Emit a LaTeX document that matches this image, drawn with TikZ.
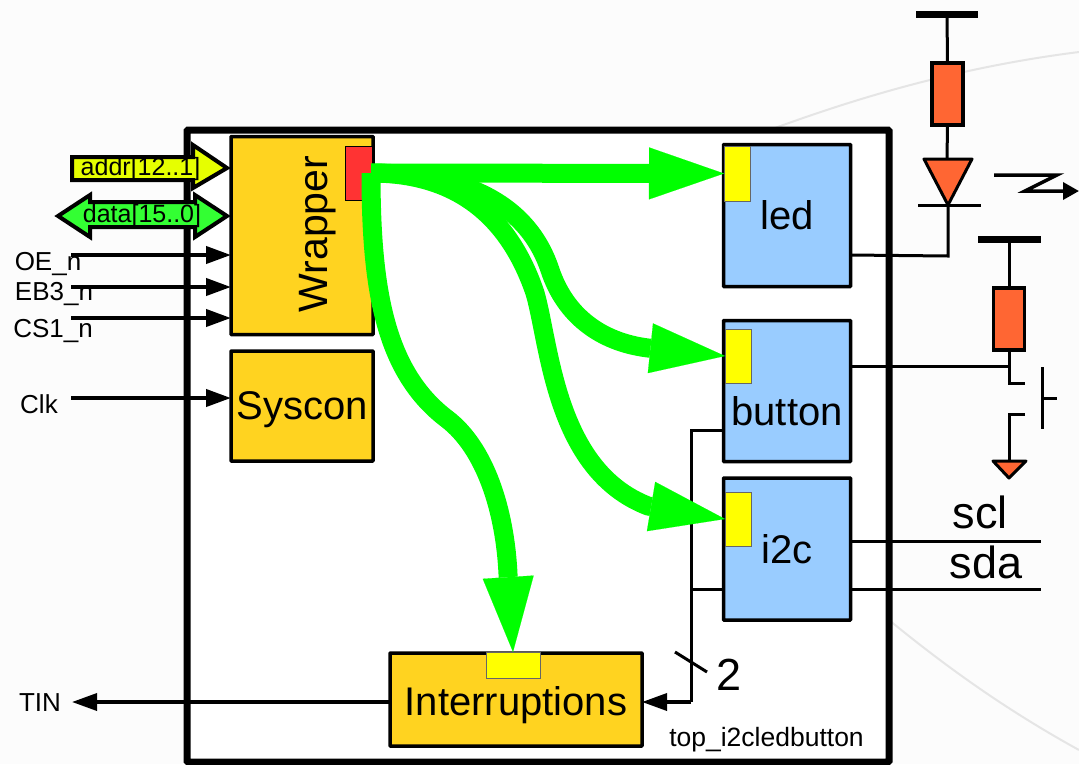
\documentclass[tikz,border=0pt]{standalone}
\usepackage{fontspec}
\setmainfont{Liberation Sans}
\usetikzlibrary{arrows.meta}
\definecolor{blockgold}{HTML}{FFD320}
\definecolor{blockblue}{HTML}{99CCFF}
\definecolor{partorange}{HTML}{FF6633}
\definecolor{portred}{HTML}{FF3333}
\definecolor{portyellow}{HTML}{FFFF00}
\definecolor{addrlime}{HTML}{E6FF00}
\definecolor{datagreen}{HTML}{33FF33}
\definecolor{flowgreen}{HTML}{00FF00}
\definecolor{pagegrey}{HTML}{FCFCFC}
\tikzset{
  block/.style={draw,line width=3.5pt,rounded corners=0.5pt,anchor=north west,inner sep=0pt,outer sep=0pt,font=\fontsize{40}{40}\selectfont},
  goldblock/.style={block,fill=blockgold},
  blueblock/.style={block,fill=blockblue},
  port/.style={draw=black!60,line width=1pt,fill=portyellow,anchor=north west,inner sep=0pt,outer sep=0pt},
  resistor/.style={draw,line width=3.5pt,fill=partorange,anchor=north west,inner sep=0pt,outer sep=0pt,minimum width=31pt,minimum height=62pt},
  wire/.style={line width=3pt},
  signal/.style={line width=4pt,-{Triangle[length=25pt,width=17pt]}},
  sigarrow/.style={draw,line width=4pt,line join=miter},
  greenflow/.style={draw=flowgreen,line width=19pt,line join=round},
  greenhead/.style={-{Triangle[length=75pt,width=#1,line width=0.1pt]}},
  pinlabel/.style={font=\fontsize{26}{26}\selectfont},
  buslabel/.style={font=\fontsize{25}{25}\selectfont},
  netlabel/.style={font=\fontsize{45}{45}\selectfont}
}
\begin{document}
\begin{tikzpicture}[x=1pt,y=-1pt]
\useasboundingbox (0,0) rectangle (1079,764);
\fill[pagegrey] (0,0) rectangle (1079,764);
% faint circle behind
\draw[black!10,line width=2pt] (775,128) .. controls (860,97) and (960,67) .. (1079,52);
\draw[black!10,line width=2pt] (889,620) .. controls (950,670) and (1010,712) .. (1079,750);

% top block
\node[draw,fill=white,line width=7pt,rounded corners=1pt,anchor=north west,inner sep=0pt,outer sep=0pt,minimum width=702pt,minimum height=632pt] (top) at (187,130) {};
\node[anchor=center,font=\fontsize{26.5}{26.5}\selectfont] (topname) at (766.5,739.5) {top\_i2cledbutton};

\node[goldblock,minimum width=142pt,minimum height=198pt] (wrapper) at (231,136.5) {};
\node[anchor=center,rotate=90,font=\fontsize{41}{41}\selectfont] (wrappername) at (318,234) {Wrapper};
\node[goldblock,minimum width=142pt,minimum height=110pt] (syscon) at (231,351) {};
\node[anchor=center,font=\fontsize{40}{40}\selectfont] (sysconname) at (302,410) {Syscon};
\node[goldblock,minimum width=252pt,minimum height=93pt] (interrupt) at (390,653) {};
\node[anchor=center,font=\fontsize{40}{40}\selectfont] (interruptname) at (516,705) {Interruptions};
\node[blueblock,minimum width=127pt,minimum height=142pt] (led) at (723.5,144.5) {led};
\node[blueblock,minimum width=127pt,minimum height=141pt] (button) at (723.5,320.5) {};
\node[anchor=center,font=\fontsize{40}{40}\selectfont] (buttonname) at (787,411) {button};
\node[blueblock,minimum width=127pt,minimum height=142pt] (i2c) at (723.5,478) {i2c};

\node[port,draw=black,fill=portred,minimum width=27pt,minimum height=54pt] (wrapperport) at (345,146) {};
\node[port,minimum width=26pt,minimum height=55pt] (ledport) at (724,146) {};
\node[port,minimum width=26pt,minimum height=54pt] (buttonport) at (725,329) {};
\node[port,minimum width=26pt,minimum height=54pt] (i2cport) at (725,492) {};
\node[port,minimum width=54pt,minimum height=26pt] (interruptport) at (486,652) {};

% pins on the left
\draw[sigarrow,fill=addrlime] (72,157) -- (193,157) -- (193,145) -- (227,168) -- (193,188) -- (193,180) -- (72,180) -- cycle;
\node[buslabel] (addrname) at (140.5,169) {addr[12..1]};
\draw[sigarrow,fill=datagreen] (58,216) -- (90,195) -- (90,202) -- (195,202) -- (195,195) -- (227,216) -- (195,237) -- (195,227) -- (90,227) -- (90,237) -- cycle;
\node[buslabel] (dataname) at (142,216) {data[15..0]};

\coordinate (oeend) at (71,255);
\coordinate (ebend) at (71,287);
\coordinate (csend) at (71,318);
\coordinate (clkend) at (71,398);
\coordinate (tinend) at (72,702);
\draw[signal] (oeend) -- (oeend -| wrapper.west);
\draw[signal] (ebend) -- (ebend -| wrapper.west);
\draw[signal] (csend) -- (csend -| wrapper.west);
\draw[signal] (clkend) -- (clkend -| syscon.west);
\draw[signal,line width=3.5pt] (interrupt.west |- tinend) -- (tinend);
\node[pinlabel] (oename) at (48,264) {OE\_n};
\node[pinlabel] (ebname) at (54,294) {EB3\_n};
\node[pinlabel] (csname) at (53,331) {CS1\_n};
\node[pinlabel] (clkname) at (39,404) {Clk};
\node[pinlabel] (tinname) at (40,703) {TIN};

% interrupt lines
\coordinate (busbutton) at (691,430);
\coordinate (busi2c) at (691,589);
\coordinate (busend) at (691,702);
\draw[wire] (button.west |- busbutton) -- (busbutton) -- (busend);
\draw[wire] (i2c.west |- busi2c) -- (busi2c);
\draw[signal,line width=3.5pt] (busend) -- (busend -| interrupt.east);
\draw[wire] (675,652) -- (707,672);
\node[netlabel] (busname) at (729,675) {2};

% led side
\coordinate (ledcorner) at (948,256);
\coordinate (vccled) at (947,14);
\node[resistor] (ledres) at (932,63) {};
\coordinate (diodetop) at (947,159);
\coordinate (diodetip) at (948,205);
\draw[wire] (led.east |- 0,255) -- (ledcorner) -- (diodetip);
\draw[wire] (vccled) -- (ledres.north);
\draw[wire] (ledres.south) -- (diodetop);
\draw[line width=7pt] (916,14) -- (978,14);
\draw[wire,line join=round,fill=partorange] (924,159) -- (972,159) -- (diodetip) -- cycle;
\draw[wire] (918,205) -- (981,205);
\draw[line width=3.5pt,-{Triangle[length=16pt,width=17pt]}] (994,175) -- (1057,175) -- (1025,191) -- (1079,191);

% button side
\coordinate (vccbutton) at (1009,239);
\node[resistor] (buttonres) at (993.5,288) {};
\draw[wire] (button.east |- 0,366) -- (1009,366);
\draw[line width=7pt] (978,239) -- (1041,239);
\draw[wire] (vccbutton) -- (buttonres.north);
\draw[wire] (buttonres.south) -- (1009,383) -- (1025,383);
\draw[wire] (1042,367) -- (1042,429);
\draw[wire] (1042,398) -- (1057,398);
\draw[wire] (1025,414) -- (1009,414) -- (1009,461);
\draw[wire,line join=round,fill=partorange] (993,461) -- (1026,461) -- (1009,478) -- cycle;

% i2c side
\draw[wire] (i2c.east |- 0,541) -- (1041,541);
\draw[wire] (i2c.east |- 0,589) -- (1041,589);
\node[netlabel] (sclname) at (980,512) {scl};
\node[netlabel] (sdaname) at (986,562) {sda};

% green bus
\coordinate (greenstart) at (371,173);
\draw[greenflow,greenhead=52pt] (greenstart) -- (ledport.west);
\draw[greenflow,greenhead=50pt] (greenstart) .. controls (450,173) and (525,195) .. (550,270) .. controls (565,315) and (600,342) .. (648,348) -- (buttonport.west);
\draw[greenflow,greenhead=50pt] (greenstart) .. controls (445,173) and (505,205) .. (535,293) .. controls (550,345) and (555,470) .. (648,506) -- (i2cport.west);
\draw[greenflow,greenhead=51pt] (greenstart) .. controls (371,290) and (385,372) .. (447,419) .. controls (485,448) and (505,510) .. (508,574) -- (interruptport.north);
\end{tikzpicture}
\end{document}
